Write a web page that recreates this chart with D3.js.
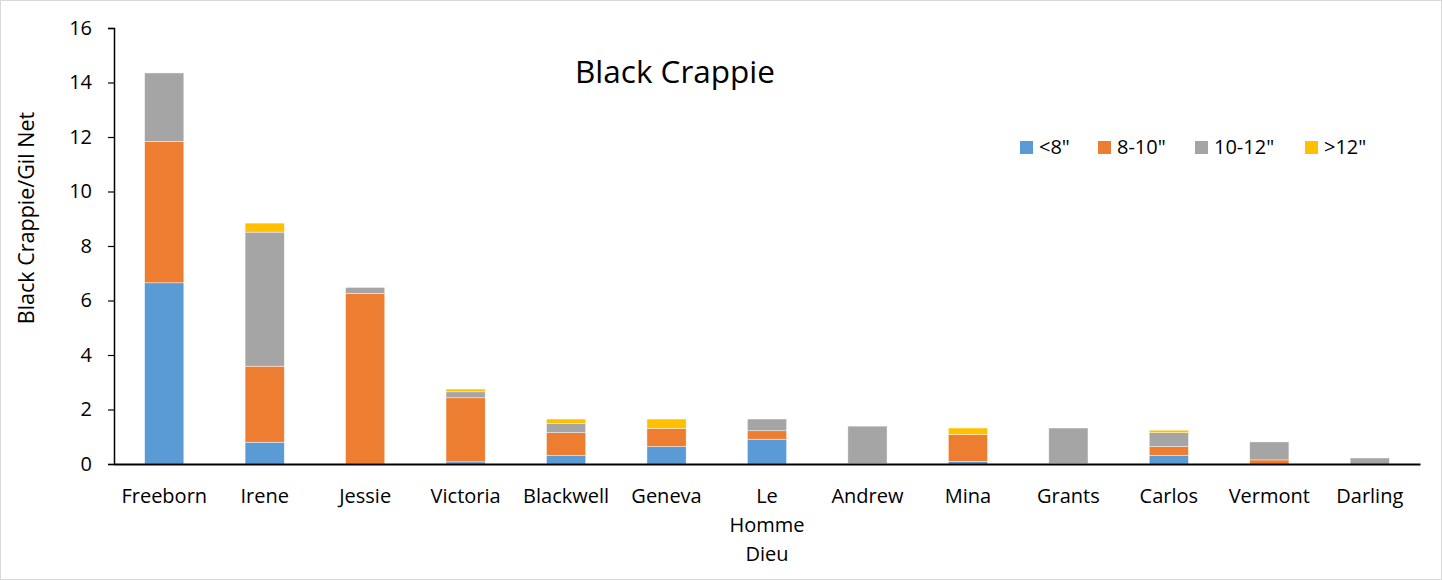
<!DOCTYPE html>
<html><head><meta charset="utf-8">
<script src="https://cdn.jsdelivr.net/npm/d3@7"></script>
<style>body{margin:0;background:#fff;} text{font-family:"Open Sans",sans-serif;fill:#000;}</style>
</head><body>
<svg id="c" width="1442" height="580"></svg>
<script>
const categories = ["Freeborn","Irene","Jessie","Victoria","Blackwell","Geneva","Le Homme Dieu","Andrew","Mina","Grants","Carlos","Vermont","Darling"];
const seriesNames = ['<8"','8-10"','10-12"','>12"'];
const under8   = [6.65,0.80,0.00,0.08,0.31,0.64,0.91,0.02,0.10,0.02,0.32,0.00,0.00];
const s8to10   = [5.19,2.79,6.26,2.35,0.84,0.67,0.31,0.00,0.98,0.00,0.32,0.15,0.00];
const s10to12  = [2.51,4.92,0.22,0.22,0.33,0.00,0.43,1.37,0.00,1.30,0.51,0.66,0.22];
const over12   = [0.00,0.33,0.00,0.10,0.17,0.34,0.00,0.00,0.24,0.00,0.09,0.00,0.00];
const colors = ["#5b9bd5","#ed7d31","#a5a5a5","#ffc000"];
const yTicks = [0,2,4,6,8,10,12,14,16];
const labelLines = {"Le Homme Dieu":["Le","Homme","Dieu"]};

const FONT = "'Open Sans', sans-serif";
const svg = d3.select("#c");
svg.append("rect").attr("x",0.5).attr("y",0.5).attr("width",1441).attr("height",579).attr("fill","#fff").attr("stroke","#d9d9d9");

const pL=114,pR=1420,pT=28,pB=464;
const x = d3.scaleBand().domain(categories).range([pL,pR]).paddingInner(0.61).paddingOuter(0.305);
const y = d3.scaleLinear().domain([0,16]).range([pB,pT]);

const table = categories.map((c,i)=>({cat:c,s0:under8[i],s1:s8to10[i],s2:s10to12[i],s3:over12[i]}));
const stack = d3.stack().keys(["s0","s1","s2","s3"])(table);

const g = svg.append("g");
stack.forEach((layer,k)=>{
  g.selectAll(null).data(layer.filter(d=>d[1]-d[0]>0)).enter().append("rect")
    .attr("x",d=>x(d.data.cat)).attr("width",x.bandwidth())
    .attr("y",d=>y(d[1])).attr("height",d=>y(d[0])-y(d[1]))
    .attr("fill",colors[k]).attr("stroke","#fff").attr("stroke-width",0.6).attr("stroke-opacity",0.7);
});

// y axis
const ya = svg.append("g").attr("transform",`translate(${pL},0)`)
  .call(d3.axisLeft(y).tickValues(yTicks).tickSize(6).tickPadding(16).tickFormat(d3.format("d")));
ya.select(".domain").attr("stroke","#000").attr("stroke-width",1.5);
ya.selectAll(".tick line").attr("stroke","#000").attr("stroke-width",1.2);
ya.selectAll("text").style("font-size","20px").style("font-family",FONT).attr("fill","#000");

// x axis
const xa = svg.append("g").attr("transform",`translate(0,${pB})`)
  .call(d3.axisBottom(x).tickSize(0).tickFormat(""));
xa.select(".domain").attr("stroke","#000").attr("stroke-width",2);
xa.selectAll(".tick").each(function(d){
  const lines = labelLines[d] || [d];
  const t = d3.select(this).append("text").attr("text-anchor","middle").style("font-size","20px").style("font-family",FONT).attr("fill","#000");
  lines.forEach((l,i)=>t.append("tspan").attr("x",0).attr("y",39+i*29).text(l));
});

// y axis title
svg.append("text").attr("transform","translate(34,218) rotate(-90)").attr("text-anchor","middle")
  .style("font-size","21.5px").text("Black Crappie/Gil Net");

// title
svg.append("text").attr("x",675).attr("y",83).attr("text-anchor","middle").style("font-size","31.5px").text("Black Crappie");

// legend
const legX = [1020,1098,1195,1305];
seriesNames.forEach((n,i)=>{
  svg.append("rect").attr("x",legX[i]).attr("y",141).attr("width",13).attr("height",13).attr("fill",colors[i]);
  svg.append("text").attr("x",legX[i]+19).attr("y",154).style("font-size","20px").text(n);
});
</script>
</body></html>
